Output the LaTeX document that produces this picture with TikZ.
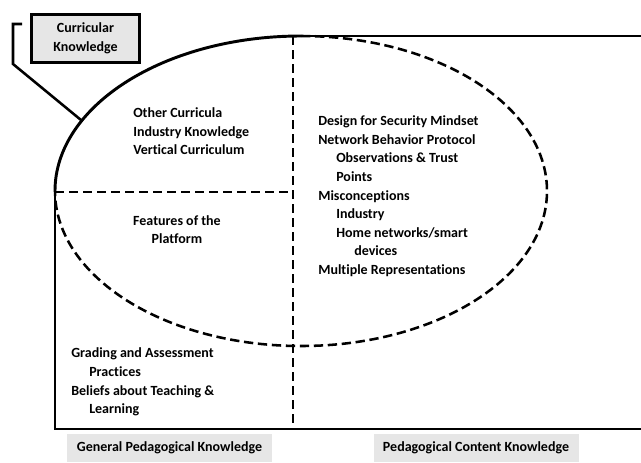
\documentclass[tikz,border=0pt]{standalone}
\usepackage{fontspec}
\setmainfont{Carlito}[Ligatures={NoCommon}]
\definecolor{boxgray}{RGB}{230,230,230}
\begin{document}
\begin{tikzpicture}[x=0.75pt,y=-0.75pt,
  solidline/.style={line width=2.2pt},
  dashline/.style={line width=1.9pt, dash pattern=on 7pt off 3.5pt},
  txt/.style={font=\bfseries\fontsize{10.5}{12}\selectfont, inner sep=0pt, anchor=base west},
  ctxt/.style={txt, anchor=base},
  graylabel/.style={fill=boxgray, inner sep=0pt, minimum width=153.75pt, minimum height=21pt,
    font=\bfseries\fontsize{10.5}{12}\selectfont}]
\useasboundingbox (0,0) rectangle (641,462);
% frame
\coordinate (L) at (55,191);
\coordinate (T) at (301,36);
\coordinate (VT) at (293,36);
\coordinate (VB) at (293,429);
\coordinate (BL) at (55,429);
\coordinate (BR) at (641,429);
\coordinate (TR) at (641,36);
\coordinate (HL) at (55,192);
\coordinate (HR) at (293,192);
\draw[solidline] (L) arc[start angle=180,end angle=90,x radius=184.5pt,y radius=116.25pt];
\draw[dashline] (T) arc[start angle=90,end angle=-180,x radius=184.5pt,y radius=116.25pt];
\draw[solidline] (VT) -- (TR);
\draw[solidline] (L) -- (BL) -- (BR);
\draw[dashline] (VT) -- (VB);
\draw[dashline] (HL) -- (HR);
% curricular knowledge box
\node[draw, solidline, fill=boxgray, minimum width=81pt, minimum height=36pt, inner sep=0pt,
  align=center, font=\bfseries\fontsize{10.5}{14.25}\selectfont] (ck) at (85.5,38.5) {Curricular\\Knowledge};
\coordinate (b1) at (22,24);
\coordinate (b2) at (13,24);
\coordinate (b3) at (13,64);
\coordinate (tip) at (81,120);
\draw[line width=1.9pt] (b1) -- (b2) -- (b3) -- (tip);
% upper-left texts
\node[txt] (oc) at (133,117) {Other Curricula};
\node[txt] (ik) at (133,136) {Industry Knowledge};
\node[txt] (vc) at (133,154) {Vertical Curriculum};
\node[ctxt] (fp1) at (177,225) {Features of the};
\node[ctxt] (fp2) at (177,243) {Platform};
% lower-left texts
\node[txt] (ga1) at (71,357) {Grading and Assessment};
\node[txt] (ga2) at (89,376) {Practices};
\node[txt] (bt1) at (71,395) {Beliefs about Teaching \&};
\node[txt] (bt2) at (89,413) {Learning};
% right texts
\node[txt] (r1) at (318,125) {Design for Security Mindset};
\node[txt] (r2) at (318,144) {Network Behavior Protocol};
\node[txt] (r3) at (336,162) {Observations \& Trust};
\node[txt] (r4) at (336,181) {Points};
\node[txt] (r5) at (318,200) {Misconceptions};
\node[txt] (r6) at (336,218) {Industry};
\node[txt] (r7) at (336,237) {Home networks/smart};
\node[txt] (r8) at (354,255) {devices};
\node[txt] (r9) at (318,274) {Multiple Representations};
% bottom labels
\node[graylabel] (gpk) at (169.5,448) {General Pedagogical Knowledge};
\node[graylabel] (pck) at (476,448) {Pedagogical Content Knowledge};
\end{tikzpicture}
\end{document}
